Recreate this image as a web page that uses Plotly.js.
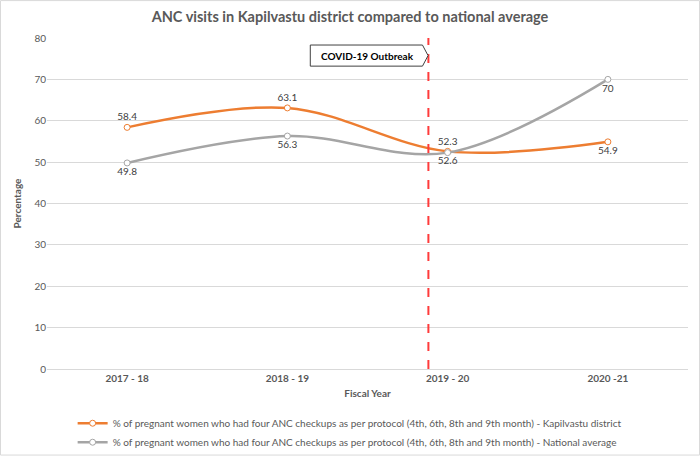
<!DOCTYPE html>
<html>
<head>
<meta charset="utf-8">
<script src="https://cdn.plot.ly/plotly-3.0.1.min.js"></script>
<style>html,body{margin:0;padding:0;background:#fff;}#chart{width:700px;height:457px;}</style>
</head>
<body>
<div id="chart"></div>
<script>
const years = ["2017 - 18", "2018 - 19", "2019 - 20", "2020 -21"];
const kapilvastu = [58.4, 63.1, 52.6, 54.9];
const national = [49.8, 56.3, 52.3, 70];
const kapilLabelPos = ["top center", "top center", "bottom center", "bottom center"];
const nationalLabelPos = ["bottom center", "bottom center", "top center", "bottom center"];
const seriesNames = [
  "% of pregnant women who had four ANC checkups as per protocol (4th, 6th, 8th and 9th month) - Kapilvastu district",
  "% of pregnant women who had four ANC checkups as per protocol (4th, 6th, 8th and 9th month) - National average"
];
const covidPos = 1.88; // category index position of outbreak line
const covidLabel = "COVID-19 Outbreak";

const FONT = "Lato, 'Open Sans', sans-serif";
const txt = "#595959";

const traces = [
  {
    x: years, y: kapilvastu, name: seriesNames[0], type: "scatter", mode: "lines+markers+text",
    line: {color: "#ED7D31", width: 2.5, shape: "spline", smoothing: 1},
    marker: {symbol: "circle", size: 6, color: "#FFFFFF", line: {color: "#ED7D31", width: 1}},
    text: kapilvastu.map(String), textposition: kapilLabelPos,
    textfont: {family: FONT, size: 10, color: "#404040"}, cliponaxis: false
  },
  {
    x: years, y: national, name: seriesNames[1], type: "scatter", mode: "lines+markers+text",
    line: {color: "#A5A5A5", width: 2.5, shape: "spline", smoothing: 1},
    marker: {symbol: "circle", size: 6, color: "#FFFFFF", line: {color: "#A5A5A5", width: 1}},
    text: national.map(String), textposition: nationalLabelPos,
    textfont: {family: FONT, size: 10, color: "#404040"}, cliponaxis: false
  }
];

const layout = {
  width: 700, height: 457,
  margin: {l: 47, r: 12, t: 38, b: 88, autoexpand: false},
  paper_bgcolor: "#FFFFFF", plot_bgcolor: "#FFFFFF",
  font: {family: FONT, color: txt, size: 10},
  title: {text: "<b>ANC visits in Kapilvastu district compared to national average</b>",
          font: {family: FONT, size: 14.5, color: txt}, x: 0.5, xanchor: "center", y: 0.962, yanchor: "middle"},
  showlegend: true,
  legend: {orientation: "v", x: 0.04, xanchor: "left", y: -0.12, yanchor: "top",
           font: {family: FONT, size: 10, color: txt}, tracegroupgap: 0, itemwidth: 30,
           bgcolor: "rgba(0,0,0,0)"},
  xaxis: {
    type: "category", range: [-0.5, 3.5], showgrid: false, zeroline: false,
    showline: true, linecolor: "#D9D9D9", linewidth: 1, ticks: "", automargin: false,
    tickfont: {family: FONT, size: 10, color: txt, weight: "bold"},
    title: {text: "<b>Fiscal Year</b>", font: {family: FONT, size: 10, color: txt}, standoff: 6}
  },
  yaxis: {
    range: [0, 80], dtick: 10, showgrid: true, gridcolor: "#D9D9D9", gridwidth: 1,
    zeroline: false, showline: false, ticks: "", automargin: false,
    tickfont: {family: FONT, size: 10, color: txt},
    title: {text: "<b>Percentage</b>", font: {family: FONT, size: 10, color: txt}, standoff: 10}
  },
  shapes: [
    {type: "line", xref: "x", yref: "paper", x0: covidPos, x1: covidPos, y0: 0, y1: 1,
     line: {color: "#FF3B3B", width: 2, dash: "dash"}, layer: "above"},
    {type: "path", xref: "x", yref: "y",
     path: "M 1.143 78.3 L 1.843 78.3 L 1.878 75.75 L 1.843 73.2 L 1.143 73.2 Z",
     fillcolor: "#FFFFFF", line: {color: "#404040", width: 1}, layer: "above"},
    {type: "rect", xref: "paper", yref: "paper", x0: -0.0725, x1: 1.018, y0: -0.26, y1: 1.113,
     line: {color: "#D9D9D9", width: 1}, fillcolor: "rgba(0,0,0,0)", layer: "below"}
  ],
  annotations: [
    {xref: "x", yref: "y", x: 1.5, y: 75.75, text: "<b>" + covidLabel + "</b>", showarrow: false,
     font: {family: FONT, size: 10, color: "#000000"}, xanchor: "center", yanchor: "middle"}
  ]
};

Plotly.newPlot("chart", traces, layout, {displayModeBar: false, staticPlot: true});
</script>
</body>
</html>
